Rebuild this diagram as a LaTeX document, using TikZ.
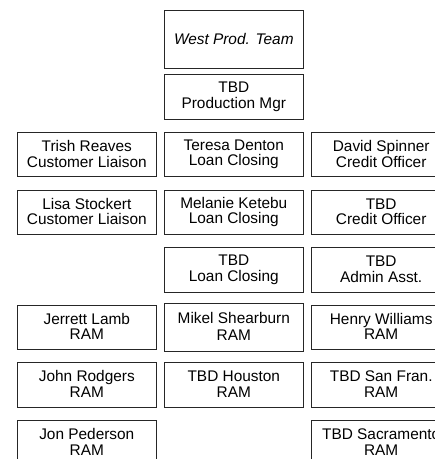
\documentclass[tikz,border=0pt]{standalone}
\usepackage{fontspec}
\setmainfont{Liberation Sans}
\usepackage{tikz}

\tikzset{
  box/.style={draw=black!85, line width=0.8pt, minimum width=139pt, minimum height=44.5pt,
    inner sep=0pt, align=center, font=\fontsize{15.4}{15.5}\selectfont},
  staff/.style={box, execute at begin node={\rule{0pt}{22pt}},
    execute at end node={\rule[-1.5pt]{0pt}{1.5pt}}}
}

\begin{document}
\begin{tikzpicture}[x=1pt,y=-1pt]
  %枠(右と下ははみ出す)
  \clip (0,0) rectangle (435,459);

  %チーム名
  \node[box, minimum height=58.3pt, font=\fontsize{15.4}{15.5}\selectfont\itshape] (west) at (233.8,39.2) {West Prod. Team};
  \node[staff] (mgr) at (233.8,96.8) {TBD\\Production Mgr};

  %左の列
  \node[staff] (trish) at (86.8,154.5) {Trish Reaves\\Customer Liaison};
  \node[staff] (lisa) at (86.8,212.2) {Lisa Stockert\\Customer Liaison};
  \node[staff] (jerrett) at (86.8,327.2) {Jerrett Lamb\\RAM};
  \node[staff] (john) at (86.8,384.7) {John Rodgers\\RAM};
  \node[staff] (jon) at (86.8,442.8) {Jon Pederson\\RAM};

  %真ん中の列
  \node[staff] (teresa) at (233.8,154.5) {Teresa Denton\\Loan Closing};
  \node[staff] (melanie) at (233.8,212.2) {Melanie Ketebu\\Loan Closing};
  \node[staff] (tbdloan) at (233.8,269.7) {TBD\\Loan Closing};
  \node[staff, minimum height=47.7pt, execute at begin node={\rule{0pt}{20pt}}] (mikel) at (233.8,327.2) {Mikel Shearburn\\[1.5pt]RAM};
  \node[staff] (houston) at (233.8,384.7) {TBD Houston\\RAM};

  %右の列
  \node[staff] (david) at (381.2,154.5) {David Spinner\\Credit Officer};
  \node[staff] (tbdcredit) at (381.2,212.2) {TBD\\Credit Officer};
  \node[staff] (tbdadmin) at (381.2,269.7) {TBD\\Admin Asst.};
  \node[staff] (henry) at (381.2,327.2) {Henry Williams\\RAM};
  \node[staff] (sanfran) at (381.2,384.7) {TBD San Fran.\\RAM};
  \node[staff] (sacramento) at (381.2,442.8) {TBD Sacramento\\RAM};
\end{tikzpicture}
\end{document}
